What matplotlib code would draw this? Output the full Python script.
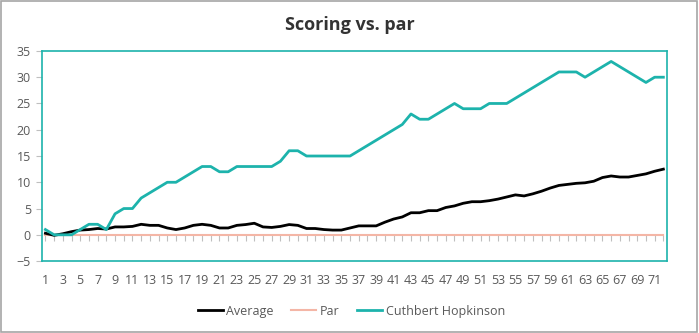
import numpy as np
import matplotlib.pyplot as plt
from matplotlib.patches import Rectangle

plt.rcParams['font.family'] = ['Open Sans', 'DejaVu Sans']

holes = list(range(1, 73))

average = [0.3, -0.1, 0.2, 0.6, 0.9, 1.0, 1.2, 1.1, 1.5, 1.5,
           1.6, 2.0, 1.8, 1.8, 1.3, 1.0, 1.3, 1.8, 2.0, 1.8,
           1.3, 1.3, 1.8, 1.95, 2.2, 1.5, 1.4, 1.6, 1.95, 1.8,
           1.2, 1.2, 1.0, 0.9, 0.9, 1.3, 1.7, 1.7, 1.7, 2.4,
           3.0, 3.4, 4.2, 4.2, 4.6, 4.6, 5.2, 5.5, 6.0, 6.3,
           6.3, 6.5, 6.8, 7.2, 7.6, 7.4, 7.8, 8.3, 8.9, 9.4,
           9.6, 9.8, 9.9, 10.2, 10.9, 11.2, 11.0, 11.0, 11.3, 11.6,
           12.1, 12.5]

par = [0] * 72

hopkinson = [1, 0, 0, 0, 1, 2, 2, 1, 4, 5,
             5, 7, 8, 9, 10, 10, 11, 12, 13, 13,
             12, 12, 13, 13, 13, 13, 13, 14, 16, 16,
             15, 15, 15, 15, 15, 15, 16, 17, 18, 19,
             20, 21, 23, 22, 22, 23, 24, 25, 24, 24,
             24, 25, 25, 25, 26, 27, 28, 29, 30, 31,
             31, 31, 30, 31, 32, 33, 32, 31, 30, 29,
             30, 30]

teal = '#1DB3AC'
label_color = '#595959'

fig = plt.figure(figsize=(6.99, 3.33), dpi=100)
ax = fig.add_axes([0.060, 0.216, 0.894, 0.631])

ax.plot(holes, average, color='black', lw=2, label='Average', zorder=3)
ax.plot(holes, par, color='#F4B6A6', lw=1.5, label='Par', zorder=2)
ax.plot(holes, hopkinson, color=teal, lw=2, label='Cuthbert Hopkinson', zorder=4)

ax.set_xlim(0.6, 72.4)
ax.set_ylim(-5, 35)
ax.set_yticks(range(-5, 36, 5))
ax.set_xticks(holes[::2])
ax.tick_params(axis='x', length=0, pad=9, labelsize=9, labelcolor=label_color)
ax.tick_params(axis='y', length=4, color='#BFBFBF', pad=4, labelsize=9, labelcolor=label_color)

for s in ax.spines.values():
    s.set_color(teal)
    s.set_linewidth(1.2)

# category tick marks hang off the zero line
zero_axis = ax.secondary_xaxis(5 / 40)
zero_axis.set_xticks(holes)
zero_axis.tick_params(axis='x', direction='out', length=4, color='#BFBFBF', labelbottom=False)
zero_axis.spines['bottom'].set_visible(False)

fig.text(0.5, 0.925, 'Scoring vs. par', ha='center', va='center',
         fontsize=13, fontweight='bold', color='#333333')

leg = ax.legend(loc='center', bbox_to_anchor=(0.495, -0.238), ncol=3, frameon=False,
                fontsize=9, handlelength=2.0, handletextpad=0.25, columnspacing=1.45)
for t in leg.get_texts():
    t.set_color(label_color)

# chart area border
fig.patches.append(Rectangle((0.002, 0.003), 0.995, 0.994, transform=fig.transFigure,
                             fill=False, edgecolor='#A6A6A6', lw=1.2))

fig.savefig('out.png', dpi=100)
